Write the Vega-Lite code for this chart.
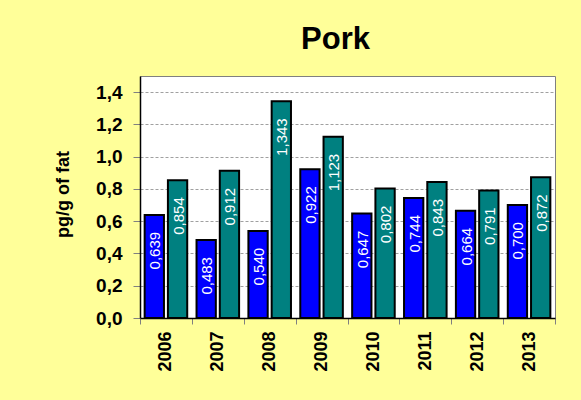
{
  "$schema": "https://vega.github.io/schema/vega-lite/v6.json",
  "width": 415,
  "height": 242,
  "autosize": {"type": "none"},
  "padding": {"left": 140, "top": 76, "right": 26, "bottom": 82},
  "background": "#FFFF99",
  "title": {
    "text": "Pork",
    "fontSize": 31,
    "font": "Liberation Sans",
    "fontWeight": "bold",
    "color": "black",
    "anchor": "middle",
    "baseline": "alphabetic",
    "offset": 26,
    "dx": -12,
    "dy": 30
  },
  "data": {
    "values": [
      {"year": "2006", "series": "WHO-PCDD/F-TEQ", "value": 0.639},
      {"year": "2006", "series": "WHO-PCDD/F-PCB-TEQ", "value": 0.854},
      {"year": "2007", "series": "WHO-PCDD/F-TEQ", "value": 0.483},
      {"year": "2007", "series": "WHO-PCDD/F-PCB-TEQ", "value": 0.912},
      {"year": "2008", "series": "WHO-PCDD/F-TEQ", "value": 0.540},
      {"year": "2008", "series": "WHO-PCDD/F-PCB-TEQ", "value": 1.343},
      {"year": "2009", "series": "WHO-PCDD/F-TEQ", "value": 0.922},
      {"year": "2009", "series": "WHO-PCDD/F-PCB-TEQ", "value": 1.123},
      {"year": "2010", "series": "WHO-PCDD/F-TEQ", "value": 0.647},
      {"year": "2010", "series": "WHO-PCDD/F-PCB-TEQ", "value": 0.802},
      {"year": "2011", "series": "WHO-PCDD/F-TEQ", "value": 0.744},
      {"year": "2011", "series": "WHO-PCDD/F-PCB-TEQ", "value": 0.843},
      {"year": "2012", "series": "WHO-PCDD/F-TEQ", "value": 0.664},
      {"year": "2012", "series": "WHO-PCDD/F-PCB-TEQ", "value": 0.791},
      {"year": "2013", "series": "WHO-PCDD/F-TEQ", "value": 0.700},
      {"year": "2013", "series": "WHO-PCDD/F-PCB-TEQ", "value": 0.872}
    ]
  },
  "encoding": {
    "x": {
      "field": "year",
      "type": "nominal",
      "scale": {"paddingInner": 0, "paddingOuter": 0},
      "axis": {
        "title": null,
        "labelAngle": 270,
        "labelFont": "Liberation Sans",
        "labelFontSize": 18,
        "labelFontWeight": "bold",
        "labelColor": "black",
        "labelPadding": 7,
        "tickSize": 6,
        "tickColor": "#808080",
        "tickBand": "extent",
        "domainColor": "black",
        "domainWidth": 1.5,
        "grid": false
      }
    },
    "xOffset": {
      "field": "series",
      "type": "nominal",
      "sort": ["WHO-PCDD/F-TEQ", "WHO-PCDD/F-PCB-TEQ"],
      "scale": {"paddingInner": 0.17, "paddingOuter": 0.2}
    },
    "y": {
      "field": "value",
      "type": "quantitative",
      "scale": {"domain": [0, 1.5], "nice": false},
      "axis": {
        "title": "pg/g of fat",
        "titleFont": "Liberation Sans",
        "titleFontSize": 18,
        "titleFontWeight": "bold",
        "titleColor": "black",
        "titleAngle": 270,
        "titleAlign": "center",
        "titleBaseline": "alphabetic",
        "titleX": -72,
        "titleY": 118,
        "values": [0, 0.2, 0.4, 0.6, 0.8, 1.0, 1.2, 1.4],
        "format": ".1f",
        "labelFont": "Liberation Sans",
        "labelFontSize": 19,
        "labelFontWeight": "bold",
        "labelColor": "black",
        "labelPadding": 11,
        "tickSize": 7,
        "tickColor": "#808080",
        "domainColor": "black",
        "domainWidth": 1.5,
        "grid": true,
        "gridColor": "#A0A0A0",
        "gridDash": [3, 2],
        "gridWidth": 1
      }
    }
  },
  "layer": [
    {
      "mark": {"type": "bar", "stroke": "black", "strokeWidth": 2},
      "encoding": {
        "color": {
          "field": "series",
          "type": "nominal",
          "scale": {"domain": ["WHO-PCDD/F-TEQ", "WHO-PCDD/F-PCB-TEQ"], "range": ["#0000FF", "#008080"]},
          "legend": null
        }
      }
    },
    {
      "mark": {
        "type": "text",
        "angle": 270,
        "align": "right",
        "baseline": "middle",
        "dx": -17,
        "dy": 1,
        "fontSize": 15,
        "font": "Liberation Sans",
        "color": "white"
      },
      "encoding": {
        "text": {"field": "value", "type": "quantitative", "format": ".3f"}
      }
    }
  ],
  "config": {
    "locale": {
      "number": {"decimal": ",", "thousands": ".", "grouping": [3], "currency": ["", " €"]}
    },
    "view": {"fill": "white", "stroke": "#808080", "strokeWidth": 1}
  }
}
